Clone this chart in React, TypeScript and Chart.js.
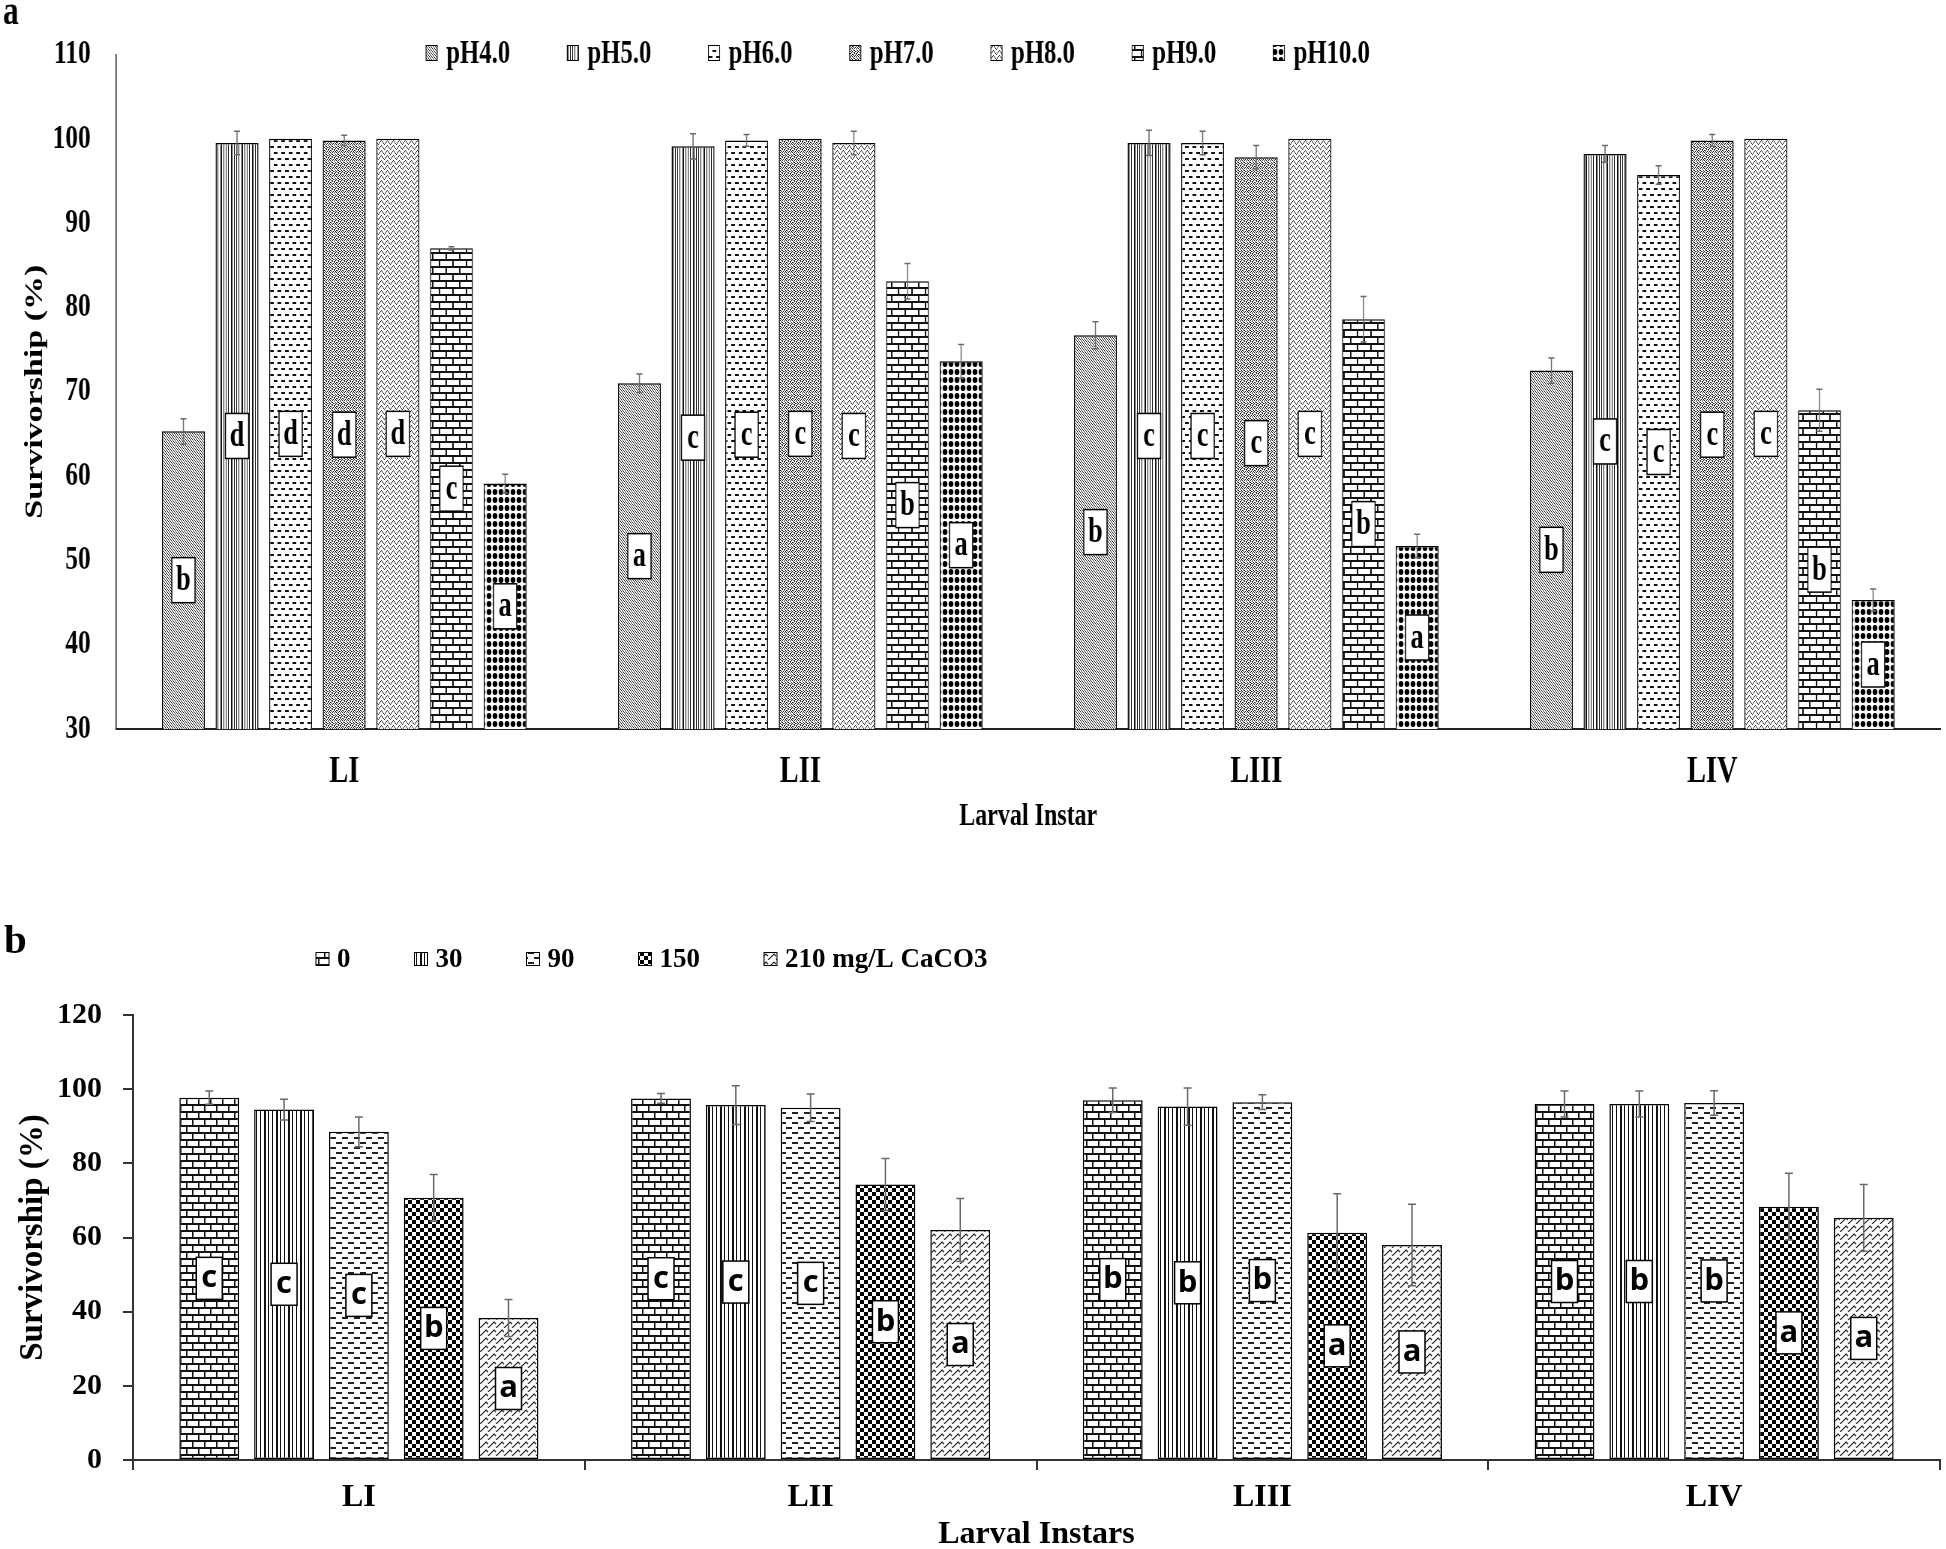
import React, { useEffect, useRef } from 'react';
import { Chart, registerables } from 'chart.js';

Chart.register(...registerables);

// ---------------- DATA ----------------
const instars = ['LI', 'LII', 'LIII', 'LIV'];

// Panel a: pH series
const phLabels = ['pH4.0', 'pH5.0', 'pH6.0', 'pH7.0', 'pH8.0', 'pH9.0', 'pH10.0'];
const ph4 = [65.3, 71.0, 76.7, 72.5];
const ph5 = [99.5, 99.1, 99.5, 98.2];
const ph6 = [100.0, 99.8, 99.5, 95.7];
const ph7 = [99.8, 100.0, 97.8, 99.8];
const ph8 = [100.0, 99.5, 100.0, 100.0];
const ph9 = [87.0, 83.1, 78.6, 67.8];
const ph10 = [59.1, 73.6, 51.7, 45.3];

const ph4Err = [1.5, 1.1, 1.6, 1.5];
const ph5Err = [1.4, 1.5, 1.5, 1.0];
const ph6Err = [0, 0.7, 1.4, 1.1];
const ph7Err = [0.6, 0, 1.4, 0.7];
const ph8Err = [0, 1.4, 0, 0];
const ph9Err = [0.2, 2.1, 2.7, 2.5];
const ph10Err = [1.1, 2.0, 1.4, 1.3];

const ph4Letters = ['b', 'a', 'b', 'b'];
const ph5Letters = ['d', 'c', 'c', 'c'];
const ph6Letters = ['d', 'c', 'c', 'c'];
const ph7Letters = ['d', 'c', 'c', 'c'];
const ph8Letters = ['d', 'c', 'c', 'c'];
const ph9Letters = ['c', 'b', 'b', 'b'];
const ph10Letters = ['a', 'a', 'a', 'a'];

const phValues = [ph4, ph5, ph6, ph7, ph8, ph9, ph10];
const phErrors = [ph4Err, ph5Err, ph6Err, ph7Err, ph8Err, ph9Err, ph10Err];
const phLetters = [ph4Letters, ph5Letters, ph6Letters, ph7Letters, ph8Letters, ph9Letters, ph10Letters];
const phTicks = { min: 30, max: 110, step: 10 };

// Panel b: hardness series
const hardLabels = ['0', '30', '90', '150', '210 mg/L CaCO3'];
const h0 = [97.7, 97.5, 97.0, 96.0];
const h30 = [94.5, 95.7, 95.3, 96.0];
const h90 = [88.5, 95.0, 96.5, 96.3];
const h150 = [70.7, 74.3, 61.3, 68.3];
const h210 = [38.3, 62.0, 58.0, 65.3];

const h0Err = [1.8, 1.3, 3.3, 3.5];
const h30Err = [2.8, 5.2, 5.0, 3.5];
const h90Err = [4.0, 3.7, 2.0, 3.3];
const h150Err = [6.3, 7.0, 10.5, 9.0];
const h210Err = [5.0, 8.5, 11.0, 9.0];

const h0Letters = ['c', 'c', 'b', 'b'];
const h30Letters = ['c', 'c', 'b', 'b'];
const h90Letters = ['c', 'c', 'b', 'b'];
const h150Letters = ['b', 'b', 'a', 'a'];
const h210Letters = ['a', 'a', 'a', 'a'];

const hardValues = [h0, h30, h90, h150, h210];
const hardErrors = [h0Err, h30Err, h90Err, h150Err, h210Err];
const hardLetters = [h0Letters, h30Letters, h90Letters, h150Letters, h210Letters];
const hardTicks = { min: 0, max: 120, step: 20 };

// ---------------- STYLE ----------------
const SERIF = "'Liberation Serif', 'Times New Roman', serif";
const SANS = "'Open Sans', 'Liberation Sans', sans-serif";
const SCALE_A = 0.75; // panel a is horizontally condensed in the reference

function tile(w: number, h: number, draw: (g: CanvasRenderingContext2D) => void) {
  const c = document.createElement('canvas');
  c.width = w;
  c.height = h;
  const g = c.getContext('2d') as CanvasRenderingContext2D;
  g.fillStyle = '#fff';
  g.fillRect(0, 0, w, h);
  draw(g);
  return c;
}

function bitmap(rows: string[], fg = '#000', px = 1) {
  return tile(rows[0].length * px, rows.length * px, (g) => {
    g.fillStyle = fg;
    rows.forEach((r, y) => {
      for (let x = 0; x < r.length; x++) if (r[x] === '#') g.fillRect(x * px, y * px, px, px);
    });
  });
}

const diagTile = () => bitmap(['#..', '.#.', '..#'], '#222');
const vertTile = () => bitmap(['##..#..#..#...'], '#111');
const vertTileB = () => bitmap(['##..#...#...'], '#111');
const dashTile = () =>
  tile(10, 12, (g) => {
    g.fillStyle = '#111';
    g.fillRect(0, 2, 5, 2);
    g.fillRect(5, 8, 5, 2);
  });
const dashTileB = () =>
  tile(12, 10, (g) => {
    g.fillStyle = '#222';
    g.fillRect(0, 2, 6, 2);
    g.fillRect(6, 7, 6, 2);
  });
const speckTile = () =>
  bitmap(
    ['#..#..#.', '.#...#..', '..##...#', '#...#.#.', '.#.#...#', '...#.##.', '##...#..', '..#.#..#'],
    '#111'
  );
const zigTile = () => bitmap(['....#...', '...#.#..', '..#...#.', '.#.....#', '#.......'], '#222');
const brickTileA = () =>
  tile(18, 14, (g) => {
    g.fillStyle = '#111';
    g.fillRect(0, 0, 18, 2);
    g.fillRect(0, 7, 18, 2);
    g.fillRect(0, 2, 2, 5);
    g.fillRect(9, 9, 2, 5);
  });
const brickTileB = () =>
  tile(12, 14, (g) => {
    g.fillStyle = '#111';
    g.fillRect(0, 0, 12, 2);
    g.fillRect(0, 7, 12, 2);
    g.fillRect(0, 2, 1.5, 5);
    g.fillRect(6, 9, 1.5, 5);
  });
const dotsTile = () =>
  tile(8, 8, (g) => {
    g.fillStyle = '#000';
    g.beginPath();
    g.ellipse(4, 4, 3.2, 3, 0, 0, Math.PI * 2);
    g.fill();
  });
const checkTile = () =>
  tile(8, 8, (g) => {
    g.fillStyle = '#000';
    g.fillRect(0, 0, 4, 4);
    g.fillRect(4, 4, 4, 4);
  });
const shingleTile = () =>
  tile(8, 8, (g) => {
    g.strokeStyle = '#222';
    g.lineWidth = 1.2;
    g.beginPath();
    for (const x0 of [-8, 0, 8]) {
      g.moveTo(x0, 8);
      g.lineTo(x0 + 6, 2);
      g.lineTo(x0 + 8, 4);
    }
    g.stroke();
  });

// ---------------- PLUGIN ----------------
const decorPlugin = {
  id: 'decor',
  afterDatasetsDraw(chart: any, _args: any, o: any) {
    const ctx = chart.ctx;
    const ys = chart.scales.y;
    ctx.save();
    chart.data.datasets.forEach((ds: any, di: number) => {
      const meta = chart.getDatasetMeta(di);
      meta.data.forEach((bar: any, i: number) => {
        const v = ds.data[i];
        const e = ds.errors ? ds.errors[i] : 0;
        if (e > 0) {
          const t = ys.getPixelForValue(v + e);
          const b = ys.getPixelForValue(v - e);
          ctx.strokeStyle = o.errColor;
          ctx.lineWidth = o.errWidth;
          ctx.beginPath();
          ctx.moveTo(bar.x, t);
          ctx.lineTo(bar.x, b);
          ctx.moveTo(bar.x - o.cap, t);
          ctx.lineTo(bar.x + o.cap, t);
          ctx.moveTo(bar.x - o.cap, b);
          ctx.lineTo(bar.x + o.cap, b);
          ctx.stroke();
        }
      });
    });
    chart.data.datasets.forEach((ds: any, di: number) => {
      const meta = chart.getDatasetMeta(di);
      meta.data.forEach((bar: any, i: number) => {
        const letter = ds.letters ? ds.letters[i] : null;
        if (!letter) return;
        const base = Math.min(bar.base, chart.chartArea.bottom);
        const cy = (bar.y + base) / 2;
        ctx.fillStyle = '#fff';
        ctx.strokeStyle = '#000';
        ctx.lineWidth = o.boxLine;
        ctx.fillRect(bar.x - o.boxW / 2, cy - o.boxH / 2, o.boxW, o.boxH);
        ctx.strokeRect(bar.x - o.boxW / 2, cy - o.boxH / 2, o.boxW, o.boxH);
        ctx.fillStyle = '#000';
        ctx.font = o.letterFont;
        ctx.textAlign = 'center';
        ctx.textBaseline = 'middle';
        ctx.fillText(letter, bar.x, cy + o.letterDy);
      });
    });
    ctx.restore();
  },
  afterDraw(chart: any, _args: any, o: any) {
    const ctx = chart.ctx;
    ctx.save();
    ctx.font = o.legendFont;
    ctx.textBaseline = 'middle';
    ctx.textAlign = 'left';
    let x = o.legendX;
    chart.data.datasets.forEach((ds: any) => {
      ctx.fillStyle = ds.backgroundColor;
      ctx.fillRect(x, o.legendY - o.sh / 2, o.sw, o.sh);
      ctx.strokeStyle = '#000';
      ctx.lineWidth = 1;
      ctx.strokeRect(x, o.legendY - o.sh / 2, o.sw, o.sh);
      ctx.fillStyle = '#000';
      ctx.fillText(ds.label, x + o.textOff, o.legendY + o.textDy);
      x += o.textOff + ctx.measureText(ds.label).width + o.itemGap;
    });
    ctx.font = o.tagFont;
    ctx.textBaseline = 'alphabetic';
    ctx.fillText(o.tag, o.tagX, o.tagY);
    ctx.restore();
  },
};

// ---------------- CONFIGS ----------------
function configA(ctx: CanvasRenderingContext2D): any {
  const tiles = [diagTile(), vertTile(), dashTile(), speckTile(), zigTile(), brickTileA(), dotsTile()];
  const pats = tiles.map((t) => ctx.createPattern(t, 'repeat'));
  return {
    type: 'bar',
    data: {
      labels: instars,
      datasets: phLabels.map((label, i) => ({
        label,
        data: phValues[i],
        errors: phErrors[i],
        letters: phLetters[i],
        backgroundColor: pats[i],
        borderColor: '#000',
        borderWidth: 1.5,
        borderSkipped: false,
        barPercentage: 0.8,
        categoryPercentage: 0.823,
      })),
    },
    options: {
      responsive: false,
      animation: false,
      devicePixelRatio: 1,
      layout: { padding: { top: 27, right: 8, left: 0, bottom: 0 } },
      plugins: {
        legend: { display: false },
        tooltip: { enabled: false },
        decor: {
          errColor: '#6a6a6a', errWidth: 1.5, cap: 4,
          boxW: 31, boxH: 45, boxLine: 1.5, letterFont: `bold 35px ${SERIF}`, letterDy: 1,
          legendX: 568, legendY: 53, sw: 15, sh: 15, textOff: 27, itemGap: 76, textDy: 1,
          legendFont: `bold 33px ${SERIF}`,
          tag: 'a', tagX: 4, tagY: 24, tagFont: `bold 42px ${SERIF}`,
        },
      },
      scales: {
        x: {
          grid: { display: false, drawTicks: false },
          border: { display: true, color: '#222', width: 2 },
          ticks: { color: '#000', font: { family: SERIF, size: 38, weight: 'bold' }, padding: 20, maxRotation: 0 },
          title: {
            display: true, text: 'Larval Instar', color: '#000',
            font: { family: SERIF, size: 32, weight: 'bold' }, padding: { top: 0, bottom: 24 },
          },
          afterFit: (s: any) => { s.height = 131; },
        },
        y: {
          min: phTicks.min, max: phTicks.max, beginAtZero: false,
          grid: { display: false, drawTicks: false },
          border: { display: true, color: '#222', width: 1.5 },
          ticks: { stepSize: phTicks.step, color: '#000', font: { family: SERIF, size: 34, weight: 'bold' }, padding: 34 },
          title: {
            display: true, text: 'Survivorship (%)', color: '#000',
            font: { family: SERIF, size: 34, weight: 'bold' }, padding: { top: 27, bottom: 0 },
          },
          afterFit: (s: any) => { s.width = 155; },
        },
      },
    },
    plugins: [decorPlugin],
  };
}

function configB(ctx: CanvasRenderingContext2D): any {
  const tiles = [brickTileB(), vertTileB(), dashTileB(), checkTile(), shingleTile()];
  const pats = tiles.map((t) => ctx.createPattern(t, 'repeat'));
  return {
    type: 'bar',
    data: {
      labels: instars,
      datasets: hardLabels.map((label, i) => ({
        label,
        data: hardValues[i],
        errors: hardErrors[i],
        letters: hardLetters[i],
        backgroundColor: pats[i],
        borderColor: '#000',
        borderWidth: 1.5,
        borderSkipped: false,
        barPercentage: 0.8,
        categoryPercentage: 0.828,
      })),
    },
    options: {
      responsive: false,
      animation: false,
      devicePixelRatio: 1,
      layout: { padding: { top: 135, right: 6, left: 0, bottom: 0 } },
      plugins: {
        legend: { display: false },
        tooltip: { enabled: false },
        decor: {
          errColor: '#6a6a6a', errWidth: 1.5, cap: 4,
          boxW: 26, boxH: 42, boxLine: 1.5, letterFont: `bold 31px ${SANS}`, letterDy: 0,
          legendX: 316, legendY: 79, sw: 13, sh: 13, textOff: 21, itemGap: 64, textDy: 1,
          legendFont: `bold 27px ${SERIF}`,
          tag: 'b', tagX: 4, tagY: 73, tagFont: `bold 41px ${SERIF}`,
        },
      },
      scales: {
        x: {
          grid: { display: true, drawOnChartArea: false, drawTicks: true, tickLength: 10, color: '#333', lineWidth: 2 },
          border: { display: true, color: '#333', width: 2 },
          ticks: { color: '#000', font: { family: SERIF, size: 32, weight: 'bold' }, padding: 9, maxRotation: 0 },
          title: {
            display: true, text: 'Larval Instars', color: '#000',
            font: { family: SERIF, size: 32, weight: 'bold' }, padding: { top: 0, bottom: 26 },
          },
          afterFit: (s: any) => { s.height = 120; },
        },
        y: {
          min: hardTicks.min, max: hardTicks.max,
          grid: { display: true, drawOnChartArea: false, drawTicks: true, tickLength: 10, color: '#333', lineWidth: 2 },
          border: { display: true, color: '#333', width: 2 },
          ticks: { stepSize: hardTicks.step, color: '#000', font: { family: SERIF, size: 30, weight: 'bold' }, padding: 21 },
          title: {
            display: true, text: 'Survivorship (%)', color: '#000',
            font: { family: SERIF, size: 33, weight: 'bold' }, padding: { top: 14, bottom: 0 },
          },
          afterFit: (s: any) => { s.width = 133; },
        },
      },
    },
    plugins: [decorPlugin],
  };
}

// ---------------- COMPONENTS ----------------
function Panel(props: { make: (ctx: CanvasRenderingContext2D) => any; width: number; height: number; sx: number; top: number }) {
  const ref = useRef<HTMLCanvasElement | null>(null);
  useEffect(() => {
    const canvas = ref.current as HTMLCanvasElement;
    const ctx = canvas.getContext('2d') as CanvasRenderingContext2D;
    const chart = new Chart(canvas, props.make(ctx));
    return () => chart.destroy();
  }, []);
  return (
    <div style={{ position: 'absolute', left: 0, top: props.top }}>
      <canvas
        ref={ref}
        width={props.width}
        height={props.height}
        style={{
          display: 'block',
          width: props.width,
          height: props.height,
          transform: `scaleX(${props.sx})`,
          transformOrigin: '0 0',
        }}
      />
    </div>
  );
}

export default function App() {
  return (
    <div
      style={{
        position: 'absolute', left: 0, top: 0, width: 1946, height: 1549,
        overflow: 'hidden', background: '#fff',
      }}
    >
      <Panel make={configA} width={Math.round(1946 / SCALE_A)} height={860} sx={SCALE_A} top={0} />
      <Panel make={configB} width={1946} height={700} sx={1} top={880} />
    </div>
  );
}
